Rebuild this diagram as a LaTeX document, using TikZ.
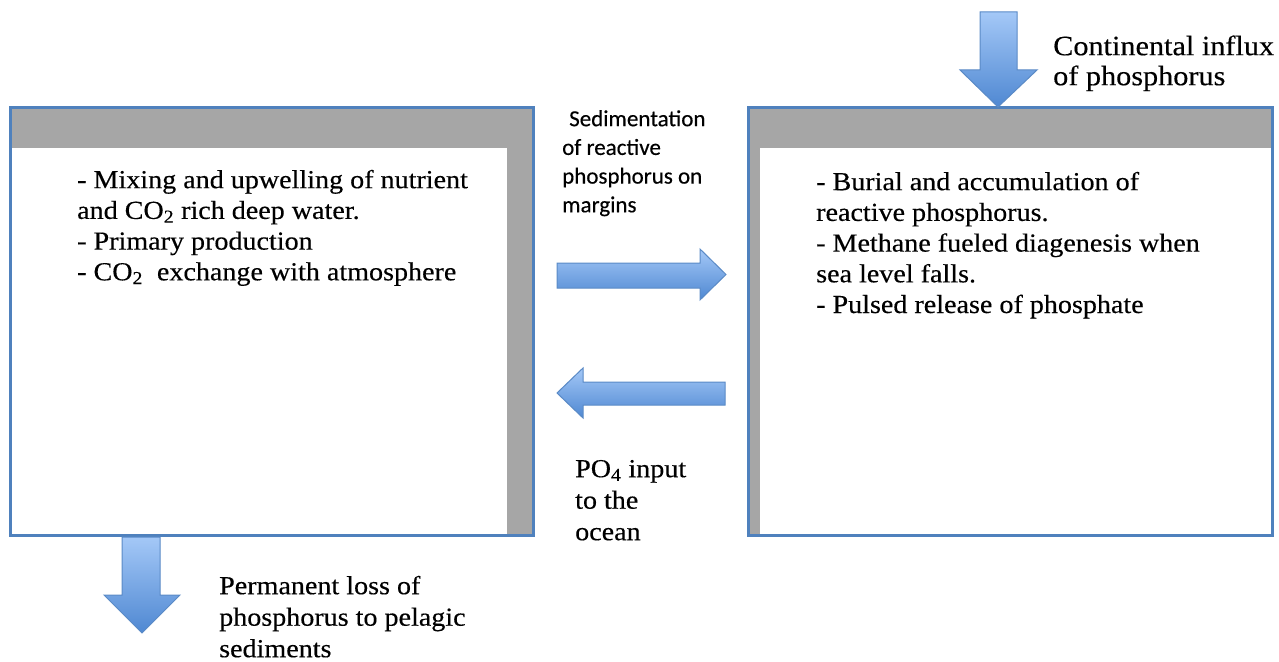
\documentclass[tikz,border=0pt]{standalone}
\usepackage{fontspec}
\setmainfont{Liberation Serif}[FakeStretch=1.08,FakeBold=0.35]
\newfontfamily\sedfont{Carlito}[FakeBold=0.3]
\definecolor{bord}{HTML}{4F81BD}
\definecolor{band}{HTML}{A6A6A6}
\definecolor{arL}{HTML}{A4C8F7}
\definecolor{arD}{HTML}{4F88D2}
\definecolor{arE}{HTML}{5A8AC6}
\begin{document}
\begin{tikzpicture}[x=1pt,y=-1pt,
  box/.style={draw=bord, line width=3pt, inner sep=0pt},
  bandfill/.style={fill=band},
  blk/.style={draw=arE, line width=1pt, top color=arL, bottom color=arD, line join=miter},
  txt/.style={anchor=north west, inner sep=0pt, align=left, font=\fontsize{26}{30.7}\selectfont},
  lbl/.style={anchor=north west, inner sep=0pt, align=left, font=\fontsize{26}{31.5}\selectfont},
  sed/.style={anchor=north west, inner sep=0pt, align=left, font=\sedfont\fontsize{23}{28.7}\selectfont}]
\useasboundingbox (0,0) rectangle (1279,661);
% grey bands
\fill[bandfill] (11,109) rectangle (532,148);
\fill[bandfill] (507,109) rectangle (532,534);
\fill[bandfill] (749,109) rectangle (1271,148);
\fill[bandfill] (749,109) rectangle (760,534);
% boxes
\node[box, minimum width=523pt, minimum height=428pt] (L) at (271.5,321) {};
\node[box, minimum width=524pt, minimum height=428pt] (R) at (1010,321) {};
% block arrows
\coordinate (cTip) at (998,107);
\coordinate (pTip) at (142,633);
\path[blk] (980,12) -- (1017,12) -- (1017,70) -- (1037,70) -- (cTip) -- (960,70) -- (980,70) -- cycle;
\path[blk] (122,537) -- (160,537) -- (160,595) -- (180,595) -- (pTip) -- (104,595) -- (122,595) -- cycle;
\path[blk] (557,263) -- (700,263) -- (700,249) -- (726,274.5) -- (700,300) -- (700,288) -- (557,288) -- cycle;
\path[blk] (725,382) -- (583,382) -- (583,368) -- (557,393) -- (583,418) -- (583,405) -- (725,405) -- cycle;
% texts
\node[txt] (Ltext) at (77,166) {\rule{0pt}{22pt}- Mixing and upwelling of nutrient\\
and CO\textsubscript{2} rich deep water.\\
- Primary production\\
- CO\textsubscript{2}\ \ exchange with atmosphere};
\node[txt] (Rtext) at (816,168) {\rule{0pt}{22pt}- Burial and accumulation of\\
reactive phosphorus.\\
- Methane fueled diagenesis when\\
sea level falls.\\
- Pulsed release of phosphate};
\node[anchor=north west, inner sep=0pt, align=left, font=\fontsize{28}{30}\selectfont] (cont) at (1053,31) {\rule{0pt}{24pt}Continental influx\\of phosphorus};
\node[sed] (sedim) at (562,106) {\rule{0pt}{20pt}\hspace{7pt}Sedimentation\\of reactive\\phosphorus on\\margins};
\node[lbl] (po4) at (575,455) {\rule{0pt}{22pt}PO\textsubscript{4} input\\to the\\ocean};
\node[lbl] (perm) at (219,572) {\rule{0pt}{22pt}Permanent loss of\\phosphorus to pelagic\\sediments};
\end{tikzpicture}
\end{document}
